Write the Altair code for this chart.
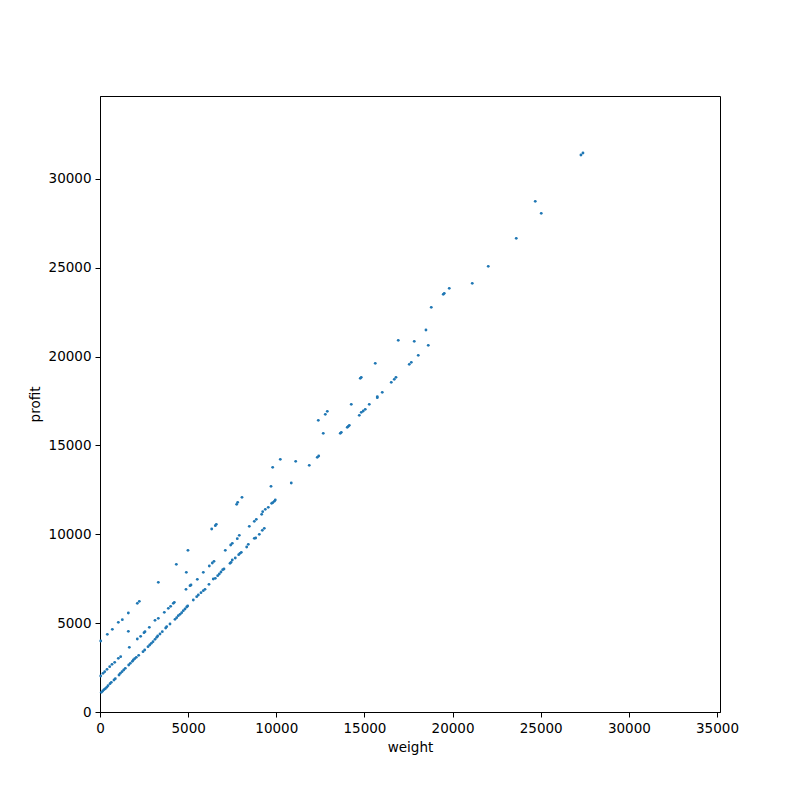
import altair as alt
import pandas as pd

weight = [
    # upper band
    40, 416, 700, 1040, 1267, 1608, 2116, 2230, 3308, 4330, 4897, 4990, 5860,
    6200, 6370, 6466, 6336, 6540, 6597, 7107, 7413, 7504, 7787, 7901,
    7753, 7810, 8054, 9700, 9795, 10227, 10850, 11100, 11871, 12325, 12405,
    # middle band
    40, 170, 267, 397, 550, 681, 834, 1040, 1172, 1608, 1664, 2116, 2306, 2496, 2552,
    2798, 3120, 3308, 3648, 3875, 4008, 4158, 4215, 4878, 5105, 5162, 5520,
    # lower band
    76, 153, 227, 302, 380, 454, 567, 641, 794, 868, 1078, 1152, 1248, 1344, 1435,
    1628, 1719, 1832, 1889, 1968, 2059, 2195, 2439, 2535, 2723, 2819, 2910, 3006,
    3120, 3216, 3273, 3403, 3534, 3726, 3783, 3970, 4254, 4350, 4441, 4538, 4634,
    4725, 4821, 4918, 4974, 5292, 5485, 5576, 5729, 5860, 5956, 6182, 6426,
    6540, 6676, 6767, 6863, 6959, 7033, 7374, 7430, 7504, 7674, 7867, 7941, 8015,
    8321, 8412, 8752, 8831, 9036, 9206, 9319, 8469, 8752, 8866, 9171, 9228, 9376,
    9546, 9738, 9795, 9886, 9943,
    # upper right
    12383, 12665, 12780, 12893, 13630, 13687, 14027, 14084, 14141, 14254, 14708,
    14821, 14934, 15048, 15275, 15729, 15729, 16012, 16523, 16693, 16789, 14764,
    14821, 15615, 17544, 17658, 18054, 16920, 17827, 18622, 18490, 18792, 19472,
    19528, 19812, 21117, 22024, 23612, 24690, 25030, 27282, 27396,
]

profit = [
    # upper band
    3996, 4371, 4653, 5047, 5197, 5572, 6116, 6230, 7300, 8310, 7860, 9100, 7860,
    8217, 8386, 8481, 10299, 10485, 10564, 9100, 9399, 9495, 9754, 9945,
    11689, 11802, 12083, 12702, 13770, 14222, 12888, 14110, 13885, 14335, 14408,
    # middle band
    2026, 2178, 2268, 2403, 2549, 2684, 2797, 3022, 3112, 4540, 3641, 4108, 4259, 4463, 4519,
    4766, 5160, 5273, 5611, 5836, 5949, 6118, 6174, 6906, 7108, 7148, 7468,
    # lower band
    1107, 1182, 1255, 1311, 1390, 1480, 1593, 1671, 1801, 1874, 2082, 2178, 2268, 2364, 2459,
    2645, 2741, 2853, 2927, 3000, 3079, 3191, 3394, 3489, 3675, 3771, 3866, 3957,
    4091, 4204, 4277, 4390, 4519, 4727, 4801, 4953, 5217, 5307, 5420, 5499, 5589,
    5701, 5797, 5909, 5966, 6303, 6489, 6585, 6714, 6827, 6906, 7187, 7485,
    7525, 7671, 7767, 7879, 8009, 8048, 8369, 8425, 8555, 8667, 8853, 8932, 8988,
    9286, 9438, 9776, 9793, 10001, 10226, 10339, 10452, 10733, 10845, 11126, 11273, 11408,
    11520, 11745, 11780, 11858, 11931,
    # upper right
    16417, 15685, 16755, 16923, 15685, 15742, 16023, 16080, 16136, 17318, 16698,
    16867, 16941, 17036, 17318, 17689, 17745, 17993, 18556, 18725, 18837, 18781,
    18837, 19624, 19568, 19680, 20075, 20919, 20863, 20638, 21500, 22777, 23508,
    23565, 23846, 24127, 25084, 26660, 28742, 28066, 31348, 31460,
]

df = pd.DataFrame({"weight": weight, "profit": profit})

font = "DejaVu Sans"

chart = alt.Chart(df).mark_circle(size=8, color="#1f77b4", opacity=1).encode(
    x=alt.X("weight:Q",
            scale=alt.Scale(domain=[0, 35170], nice=False, zero=False),
            axis=alt.Axis(values=[0, 5000, 10000, 15000, 20000, 25000, 30000, 35000],
                          title="weight", grid=False, tickSize=5, labelPadding=4,
                          titlePadding=6, format="d", labelFlush=False)),
    y=alt.Y("profit:Q",
            scale=alt.Scale(domain=[0, 34670], nice=False, zero=False),
            axis=alt.Axis(values=[0, 5000, 10000, 15000, 20000, 25000, 30000],
                          title="profit", grid=False, tickSize=5, labelPadding=4,
                          titlePadding=6, format="d", labelFlush=False)),
).properties(
    width=620, height=616,
    autosize=alt.AutoSizeParams(type="none"),
    padding={"left": 92, "top": 88, "right": 72, "bottom": 80},
).configure_view(
    stroke="black", strokeWidth=1
).configure_axis(
    domainColor="black", tickColor="black", labelColor="black", titleColor="black",
    labelFont=font, titleFont=font, labelFontSize=13.5, titleFontSize=13.5,
    titleFontWeight="normal", domainWidth=1, tickWidth=1,
)

chart.save("out.html", embed_options={"renderer": "svg", "actions": False})
